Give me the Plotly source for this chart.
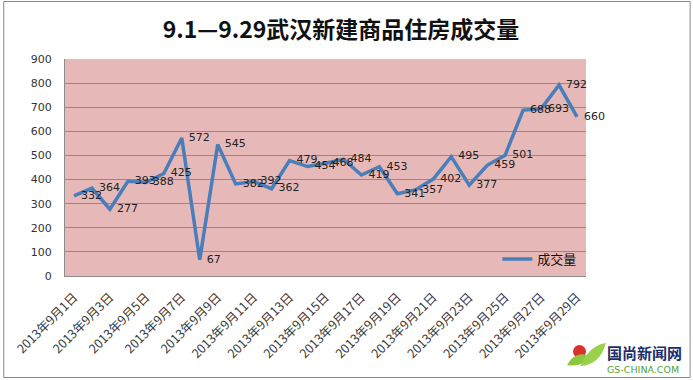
import plotly.graph_objects as go

days = list(range(1, 30))
categories = [f"2013年9月{d}日" for d in days]
volumes = [332, 364, 277, 393, 388, 425, 572, 67, 545, 382, 392, 362, 479, 454,
           468, 484, 419, 453, 341, 357, 402, 495, 377, 459, 501, 688, 693, 792, 660]
tick_labels = categories[::2]
y_ticks = list(range(0, 1000, 100))

L, R, T, B = 63, 107, 59, 104
W, H = 693, 380
pw, ph = W - L - R, H - T - B

def px(x):
    return (x - L) / pw

def py(y):
    return (H - B - y) / ph

fig = go.Figure()
fig.add_trace(go.Scatter(
    x=categories, y=volumes, mode="lines+text", name="成交量",
    line=dict(color="#4A7EBB", width=3.5),
    text=["\u00a0\u00a0" + str(v) for v in volumes], textposition="middle right",
    textfont=dict(family="DejaVu Sans", size=11, color="#222222"),
    cliponaxis=False,
))

fig.update_layout(
    width=W, height=H,
    margin=dict(l=L, r=R, t=T, b=B),
    paper_bgcolor="white", plot_bgcolor="#E6B9B8",
    title=dict(text="<b>9.1—9.29武汉新建商品住房成交量</b>",
               x=(341) / W, xanchor="center", y=1 - 30 / H, yanchor="middle",
               font=dict(family="Noto Sans CJK SC", size=23, color="#111111")),
    showlegend=True,
    legend=dict(x=px(497), y=py(259), xanchor="left", yanchor="middle",
                bgcolor="rgba(0,0,0,0)",
                font=dict(family="Noto Sans CJK SC", size=13, color="#111111"),
                itemwidth=30),
    xaxis=dict(type="category", categoryorder="array", categoryarray=categories,
               tickvals=tick_labels, ticktext=tick_labels, tickangle=-45,
               tickfont=dict(family="Noto Sans CJK SC", size=12.5, color="#3a3a3a"),
               showgrid=False, showline=True, linecolor="#8c8c8c", ticks="",
               ticklabelstandoff=8,
               range=[-0.5, len(categories) - 0.5], fixedrange=True),
    yaxis=dict(range=[0, 900], tickvals=y_ticks, showgrid=True, gridcolor="#8c8c8c",
               gridwidth=1, zeroline=False, showline=True, linecolor="#8c8c8c",
               tickfont=dict(family="DejaVu Sans", size=11, color="#333333"),
               ticks="", ticklabelstandoff=10, fixedrange=True),
)

# outer chart border
fig.add_shape(type="rect", xref="paper", yref="paper",
              x0=px(1.5), x1=px(690.5), y0=py(377.5), y1=py(1.5),
              line=dict(color="#8a8a8a", width=1), fillcolor="rgba(0,0,0,0)", layer="below")

# watermark logo
fig.add_shape(type="circle", xref="paper", yref="paper",
              x0=px(573), x1=px(586), y0=py(358), y1=py(345),
              fillcolor="#d8322a", line=dict(width=0))
fig.add_shape(type="path", xref="paper", yref="paper",
              path=f"M {px(567)} {py(365)} Q {px(575)} {py(350)} {px(590)} {py(356)} Q {px(582)} {py(368)} {px(567)} {py(365)} Z",
              fillcolor="#8cc63f", line=dict(width=0))
fig.add_shape(type="path", xref="paper", yref="paper",
              path=f"M {px(580)} {py(366)} Q {px(590)} {py(345)} {px(606)} {py(343)} Q {px(600)} {py(365)} {px(580)} {py(366)} Z",
              fillcolor="#9bd14a", line=dict(width=0))
fig.add_annotation(xref="paper", yref="paper", x=px(605), y=py(352), xanchor="left", yanchor="middle",
                   text="<b>国尚新闻网</b>", showarrow=False,
                   font=dict(family="Noto Sans CJK SC", size=15, color="#1d2c6b"))
fig.add_annotation(xref="paper", yref="paper", x=px(605), y=py(369), xanchor="left", yanchor="middle",
                   text="GS-CHINA.COM", showarrow=False,
                   font=dict(family="DejaVu Sans", size=9.5, color="#5aa02c"))

fig.write_html("out.html")
